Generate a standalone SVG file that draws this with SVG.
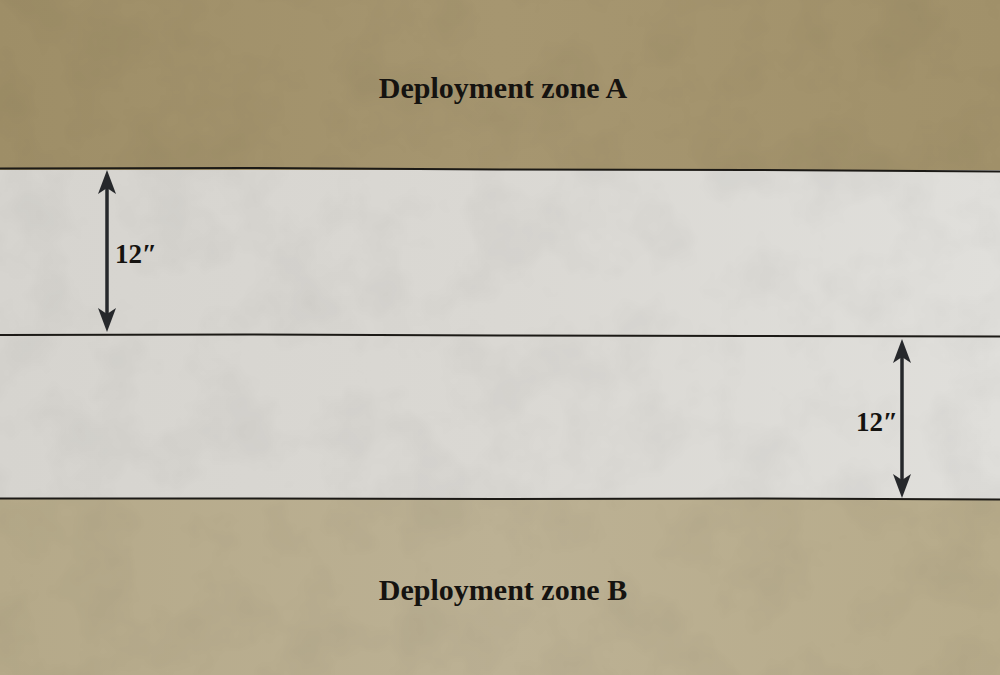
<svg xmlns="http://www.w3.org/2000/svg" width="1000" height="675" viewBox="0 0 1000 675">
<defs>
<style>
.zone{font-family:"Liberation Serif","DejaVu Serif",serif;font-weight:bold;font-size:30px;fill:#151310;text-anchor:middle}
.dim{font-family:"Liberation Serif","DejaVu Serif",serif;font-weight:bold;font-size:27px;fill:#151310}
.edge{stroke:#1c1a16;stroke-width:2;fill:none}
.arrow{stroke:#26282b;stroke-width:3.5;fill:none}
</style>
<marker id="ah" viewBox="0 0 24 18" refX="14" refY="9" markerWidth="24" markerHeight="18" orient="auto-start-reverse" markerUnits="userSpaceOnUse">
<path d="M0,0 L24,9 L0,18 L6,9 z" fill="#26282b"/>
</marker>
<filter id="tex" x="0" y="0" width="100%" height="100%">
<feTurbulence type="fractalNoise" baseFrequency="0.015" numOctaves="4" seed="7" result="n"/>
<feColorMatrix type="matrix" values="0 0 0 0 0  0 0 0 0 0  0 0 0 0 0  0 0 0 0.5 -0.2" />
</filter>
<linearGradient id="topg" x1="0" y1="0" x2="1" y2="0">
<stop offset="0" stop-color="#9e8e67"/>
<stop offset="0.5" stop-color="#a69670"/>
<stop offset="1" stop-color="#a1916a"/>
</linearGradient>
<linearGradient id="botg" x1="0" y1="0" x2="1" y2="0">
<stop offset="0" stop-color="#b5a989"/>
<stop offset="0.5" stop-color="#bcb194"/>
<stop offset="1" stop-color="#b7ab8a"/>
</linearGradient>
<linearGradient id="midg" x1="0" y1="0" x2="1" y2="0">
<stop offset="0" stop-color="#d6d4cf"/>
<stop offset="0.5" stop-color="#dad8d3"/>
<stop offset="1" stop-color="#e0dfdb"/>
</linearGradient>
</defs>
<g id="zone-a">
<rect x="0" y="0" width="1000" height="170" fill="url(#topg)"/>
</g>
<g id="midfield">
<rect x="0" y="170" width="1000" height="330" fill="url(#midg)"/>
</g>
<g id="zone-b">
<rect x="0" y="499" width="1000" height="176" fill="url(#botg)"/>
</g>
<rect x="0" y="0" width="1000" height="675" filter="url(#tex)" opacity="0.15"/>
<g id="label-zone-a">
<text class="zone" x="503" y="98">Deployment zone A</text>
</g>
<g id="label-zone-b">
<text class="zone" x="503" y="600">Deployment zone B</text>
</g>
<g id="connectors">
<path class="edge" d="M0,168.5 L250,168 L500,169.5 L750,170 L1000,171.5"/>
<path class="edge" d="M0,335 L250,334.5 L500,335.5 L750,336 L1000,336.5"/>
<path class="edge" d="M0,498.5 L250,498.5 L500,499 L750,498.5 L1000,499.5"/>
<line class="arrow" x1="107" y1="180" x2="107" y2="322" marker-start="url(#ah)" marker-end="url(#ah)"/>
<line class="arrow" x1="902" y1="349" x2="902" y2="488" marker-start="url(#ah)" marker-end="url(#ah)"/>
</g>
<g id="label-12-a">
<text class="dim" x="115" y="263">12″</text>
</g>
<g id="label-12-b">
<text class="dim" x="856" y="431">12″</text>
</g>
</svg>
